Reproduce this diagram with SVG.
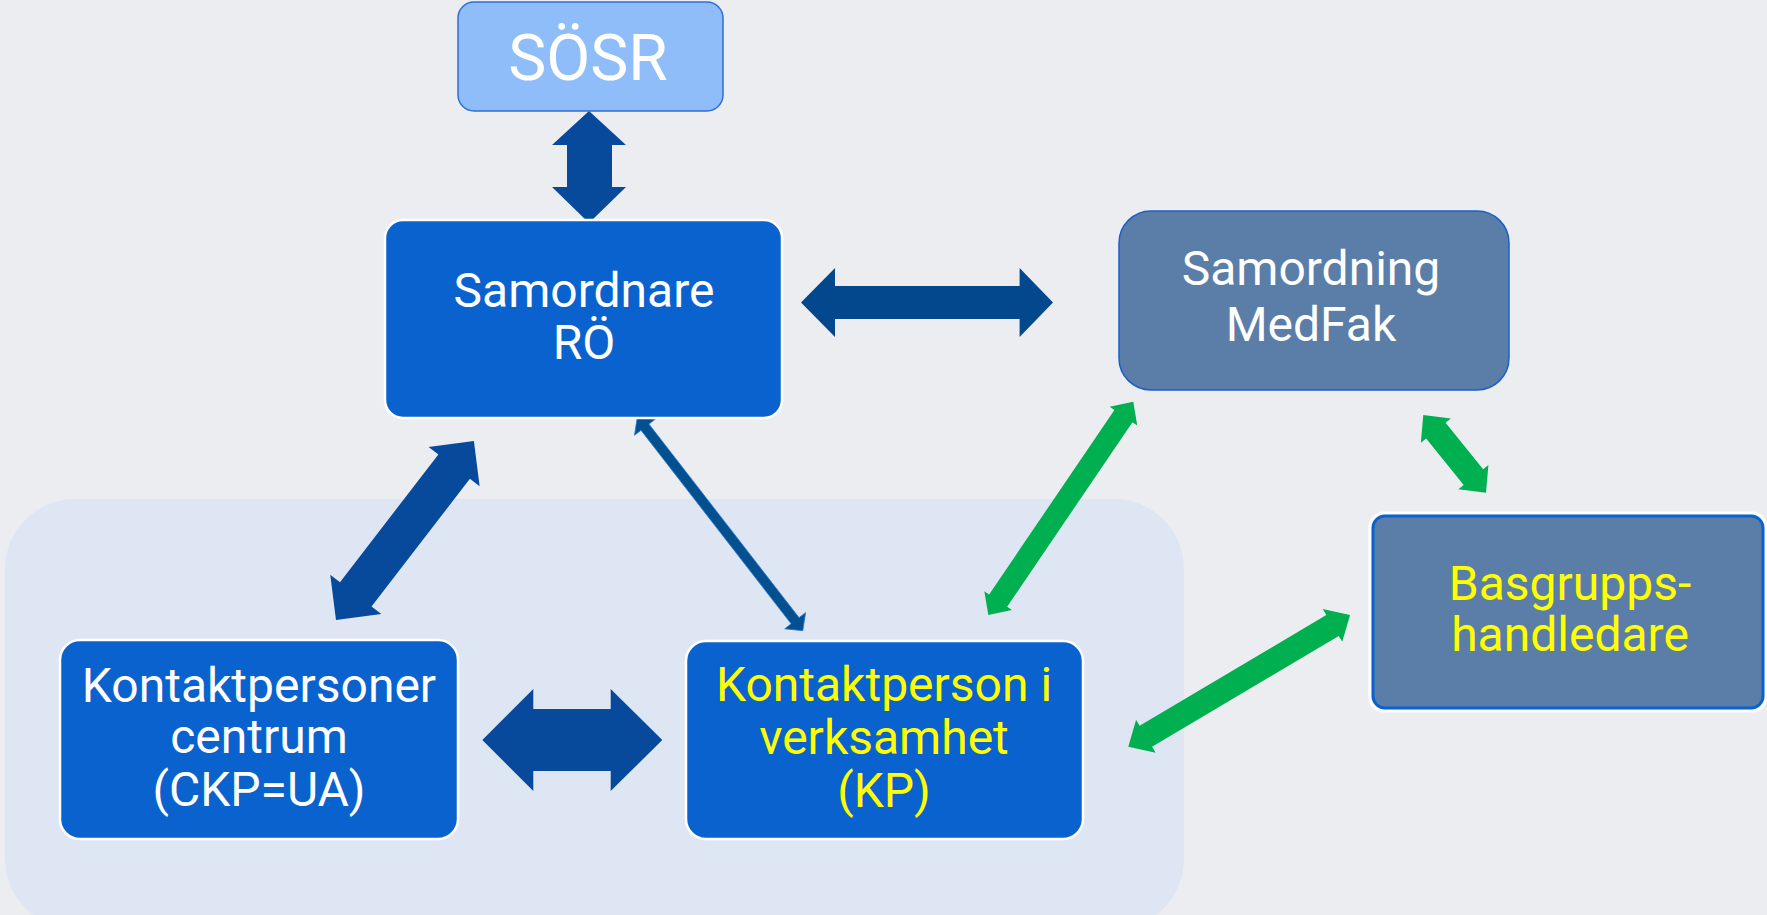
<svg xmlns="http://www.w3.org/2000/svg" width="1767" height="915" viewBox="0 0 1767 915">
<style>
.t{font-family:Roboto,"Liberation Sans",sans-serif;font-size:48px;text-anchor:middle;fill:#ffffff}
.y{fill:#ffff00}
.blue{fill:#0a62cf;stroke:#ffffff;stroke-width:2.5}
.gray{fill:#5b7ea8}
.ga{fill:#00b050}
.ba{fill:#07499a}
</style>
<rect x="0" y="0" width="1767" height="915" fill="#ebedf1"/>
<rect id="panel" x="5" y="499" width="1179" height="430" rx="70" ry="70" fill="#dfe6f3"/>
<g id="connectors">
  <polygon class="ba" points="589,111 626,145 612,145 612,187 626,187 589,223 552,187 567,187 567,145 552,145"/>
  <polygon fill="#03488c" points="801,302.5 835,268 835,286 1019.6,286 1019.6,268 1053,302.5 1019.6,337 1019.6,319 835,319 835,337"/>
  <g transform="translate(336,620) rotate(-52.4)"><polygon class="ba" points="0,0 32.4,-32.2 32.4,-19.9 193.6,-19.9 193.6,-32.2 226,0 193.6,32.2 193.6,19.9 32.4,19.9 32.4,32.2"/></g>
  <g transform="translate(637.3,417.3) rotate(52.2)"><polygon fill="#02508f" stroke="#2a78d0" stroke-width="0.8" points="0,0 12.5,-13.2 12.5,-5 257.5,-5 257.5,-13.2 270,0 257.5,13.2 257.5,5 12.5,5 12.5,13.2"/></g>
  <polygon class="ba" points="482.3,740 533.3,689 533.3,709 610.7,709 610.7,689 662.3,740 610.7,791 610.7,771 533.3,771 533.3,791"/>
  <g transform="translate(988.3,615) rotate(-55.8)"><polygon class="ga" points="0,0 17.5,-16.7 17.5,-10.9 240.4,-10.9 240.4,-16.7 257.9,0 240.4,16.7 240.4,10.9 17.5,10.9 17.5,16.7"/></g>
  <g transform="translate(1423.3,415) rotate(51.1)"><polygon class="ga" points="0,0 20,-19.3 20,-12.5 79.8,-12.5 79.8,-19.3 99.8,0 79.8,19.3 79.8,12.5 20,12.5 20,19.3"/></g>
  <g transform="translate(1128.3,746.7) rotate(-30.7)"><polygon class="ga" points="0,0 20.4,-19.1 20.4,-12.2 237.5,-12.2 237.5,-19.1 257.9,0 237.5,19.1 237.5,12.2 20.4,12.2 20.4,19.1"/></g>
</g>
<g id="sosr">
  <rect x="458" y="2" width="265" height="109" rx="16" fill="#8fbdfa" stroke="#2f6fd3" stroke-width="1.5"/>
  <text class="t" x="588" y="80" style="font-size:64px">SÖSR</text>
</g>
<g id="samordnare">
  <rect class="blue" x="385" y="220" width="397" height="198" rx="18"/>
  <text class="t" x="584" y="307">Samordnare</text>
  <text class="t" x="584" y="359">RÖ</text>
</g>
<g id="medfak">
  <rect class="gray" x="1119" y="211" width="390" height="179" rx="32" stroke="#1a5fc8" stroke-width="1.5"/>
  <text class="t" x="1311" y="285">Samordning</text>
  <text class="t" x="1311" y="341">MedFak</text>
</g>
<g id="basgrupp">
  <rect x="1370" y="513" width="396" height="198" rx="14" fill="none" stroke="#ffffff" stroke-width="3"/>
  <rect class="gray" x="1373" y="516" width="390" height="192" rx="12" stroke="#0a62cf" stroke-width="3"/>
  <text class="t y" x="1570" y="600">Basgrupps-</text>
  <text class="t y" x="1570" y="651">handledare</text>
</g>
<g id="ckp">
  <rect class="blue" x="60" y="640" width="398" height="199" rx="20"/>
  <text class="t" x="259" y="702">Kontaktpersoner</text>
  <text class="t" x="259" y="753">centrum</text>
  <text class="t" x="259" y="806">(CKP=UA)</text>
</g>
<g id="kp">
  <rect class="blue" x="686" y="641" width="397" height="198" rx="20"/>
  <text class="t y" x="884" y="701">Kontaktperson i</text>
  <text class="t y" x="884" y="754">verksamhet</text>
  <text class="t y" x="884" y="807">(KP)</text>
</g>
</svg>
